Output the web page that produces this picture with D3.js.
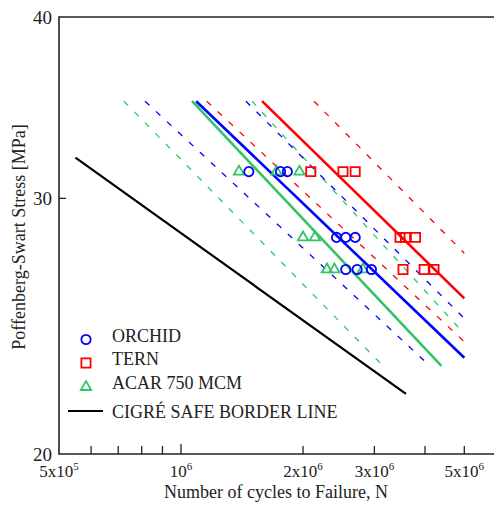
<!DOCTYPE html>
<html>
<head>
<meta charset="utf-8">
<script src="https://cdn.jsdelivr.net/npm/d3@7"></script>
<style>
  body { margin: 0; background: #fff; }
  text { font-family: "Liberation Serif", "Times New Roman", serif; fill: #222; }
</style>
</head>
<body>
<svg id="chart" width="494" height="511"></svg>
<script>
// test points, [N, stress MPa]
var orchidPts = [[1.47e6, 31.3], [1.76e6, 31.3], [1.83e6, 31.3],
                 [2.42e6, 28.2], [2.55e6, 28.2], [2.69e6, 28.2],
                 [2.55e6, 26.8], [2.72e6, 26.8], [2.95e6, 26.8]];
var ternPts = [[2.09e6, 31.3], [2.51e6, 31.3], [2.69e6, 31.3],
               [3.47e6, 28.2], [3.58e6, 28.2], [3.79e6, 28.2],
               [3.53e6, 26.8], [3.98e6, 26.8], [4.21e6, 26.8]];
var acarPts = [[1.39e6, 31.3], [1.72e6, 31.3], [1.96e6, 31.3],
               [2.0e6, 28.2], [2.14e6, 28.2],
               [2.29e6, 26.8], [2.39e6, 26.8], [2.81e6, 26.8]];

// fitted S-N lines and bounds, end points [N, stress]
var orchidFit = [[1.09e6, 35], [5.0e6, 23.3]];
var orchidLow = [[8.15e5, 35], [4.11e6, 23.0]];
var orchidHigh = [[1.446e6, 35], [5.0e6, 24.8]];
var ternFit = [[1.585e6, 35], [5.0e6, 25.6]];
var ternLow = [[1.157e6, 35], [5.0e6, 23.9]];
var ternHigh = [[2.129e6, 35], [5.0e6, 27.5]];
var acarFit = [[1.065e6, 35], [4.39e6, 23.0]];
var acarLow = [[7.23e5, 35], [3.15e6, 23.0]];
var acarHigh = [[1.497e6, 35], [5.0e6, 24.2]];
var cigreLine = [[5.49e5, 32], [3.59e6, 22]];

var xMajor = [1e6, 2e6, 3e6, 4e6, 5e6];
var xMinor = [6e5, 7e5, 8e5, 9e5];
var xLabels = [[5e5, "5x10", "5"], [1e6, "10", "6"], [2e6, "2x10", "6"], [3e6, "3x10", "6"], [5e6, "5x10", "6"]];
var yLabels = [20, 30, 40];

var blue = "#0000ff", red = "#ff0000", green = "#33c466";

var width = 494, height = 511;
var margins = {top: 17, bottom: 57, left: 59, right: 0};

var svg = d3.select("#chart");

var xScale = d3.scaleLog()
  .domain([5e5, 6e6])
  .range([margins.left, margins.left + 405.3 * Math.log10(12)]);
var yScale = d3.scaleLog()
  .domain([20, 40])
  .range([height - margins.bottom, margins.top]);

var line = d3.line()
  .x(function(d){ return xScale(d[0]); })
  .y(function(d){ return yScale(d[1]); });

// dashed bounds first
var dashed = [[acarLow, green], [acarHigh, green], [orchidLow, blue], [orchidHigh, blue], [ternLow, red], [ternHigh, red]];
svg.append("g").selectAll("path")
  .data(dashed)
  .enter()
  .append("path")
  .attr("d", function(d){ return line(d[0]); })
  .attr("fill", "none")
  .attr("stroke", function(d){ return d[1]; })
  .attr("stroke-width", 1.3)
  .attr("stroke-dasharray", "6,9");

var solid = [[acarFit, green, 2.6], [orchidFit, blue, 2.6], [ternFit, red, 2.6], [cigreLine, "#000", 2.2]];
svg.append("g").selectAll("path")
  .data(solid)
  .enter()
  .append("path")
  .attr("d", function(d){ return line(d[0]); })
  .attr("fill", "none")
  .attr("stroke", function(d){ return d[1]; })
  .attr("stroke-width", function(d){ return d[2]; });

// markers
var triSym = d3.symbol().type(d3.symbolTriangle).size(46);
var circSym = d3.symbol().type(d3.symbolCircle).size(68);
var sqSym = d3.symbol().type(d3.symbolSquare).size(84);

function drawPts(pts, sym, col) {
  svg.append("g").selectAll("path")
    .data(pts)
    .enter()
    .append("path")
    .attr("d", sym)
    .attr("transform", function(d){ return "translate(" + xScale(d[0]) + "," + yScale(d[1]) + ")"; })
    .attr("fill", "none")
    .attr("stroke", col)
    .attr("stroke-width", 1.8);
}
drawPts(acarPts, triSym, green);
drawPts(orchidPts, circSym, blue);
drawPts(ternPts, sqSym, red);

// axes frame
var x0 = margins.left, x1 = width;
var yTop = yScale(40), yBot = yScale(20);
svg.append("line").attr("x1", x0).attr("x2", x1).attr("y1", yTop).attr("y2", yTop)
  .attr("stroke", "#222").attr("stroke-width", 1.6);
svg.append("line").attr("x1", x0).attr("x2", x1).attr("y1", yBot).attr("y2", yBot)
  .attr("stroke", "#222").attr("stroke-width", 1.6);
svg.append("line").attr("x1", x0).attr("x2", x0).attr("y1", yTop - 0.8).attr("y2", yBot + 0.8)
  .attr("stroke", "#222").attr("stroke-width", 1.6);

svg.append("g").selectAll("line")
  .data(xMajor.concat(xMinor))
  .enter()
  .append("line")
  .attr("x1", function(d){ return xScale(d); })
  .attr("x2", function(d){ return xScale(d); })
  .attr("y1", yBot)
  .attr("y2", function(d){ return yBot - (d == 1e6 ? 10 : 8); })
  .attr("stroke", "#222")
  .attr("stroke-width", 1.3);

svg.append("line").attr("x1", x0).attr("x2", x0 + 7)
  .attr("y1", yScale(30)).attr("y2", yScale(30))
  .attr("stroke", "#222").attr("stroke-width", 1.3);

// tick labels
svg.append("g").selectAll("text")
  .data(yLabels)
  .enter()
  .append("text")
  .attr("x", x0 - 7)
  .attr("y", function(d){ return yScale(d) + 6.5; })
  .attr("text-anchor", "end")
  .style("font-size", "19px")
  .text(function(d){ return d; });

var xl = svg.append("g").selectAll("text")
  .data(xLabels)
  .enter()
  .append("text")
  .attr("x", function(d){ return xScale(d[0]); })
  .attr("y", yBot + 23)
  .attr("text-anchor", "middle")
  .style("font-size", "17px");
xl.append("tspan").text(function(d){ return d[1]; });
xl.append("tspan").attr("dy", -7).style("font-size", "11px").text(function(d){ return d[2]; });

// axis titles
svg.append("text")
  .text("Number of cycles to Failure, N")
  .attr("x", 276)
  .attr("y", 498)
  .attr("text-anchor", "middle")
  .style("font-size", "18px");
svg.append("text")
  .text("Poffenberg-Swart Stress [MPa]")
  .attr("transform", "translate(25,237) rotate(-90)")
  .attr("text-anchor", "middle")
  .style("font-size", "18px");

// legend
var legend = [["ORCHID", circSym, blue, 339.5, 342],
              ["TERN", sqSym, red, 363, 365],
              ["ACAR 750 MCM", triSym, green, 387, 389],
              ["CIGRÉ SAFE BORDER LINE", null, "#000", 411, 418]];
var lg = svg.append("g").selectAll("g")
  .data(legend)
  .enter()
  .append("g");
lg.filter(function(d){ return d[1]; })
  .append("path")
  .attr("d", function(d){ return d[1](); })
  .attr("transform", function(d){ return "translate(86," + d[3] + ")"; })
  .attr("fill", "none")
  .attr("stroke", function(d){ return d[2]; })
  .attr("stroke-width", 1.8);
lg.filter(function(d){ return !d[1]; })
  .append("line")
  .attr("x1", 68).attr("x2", 103)
  .attr("y1", function(d){ return d[3]; })
  .attr("y2", function(d){ return d[3]; })
  .attr("stroke", "#000")
  .attr("stroke-width", 2.2);
lg.append("text")
  .attr("x", 112)
  .attr("y", function(d){ return d[4]; })
  .style("font-size", "18px")
  .text(function(d){ return d[0]; });
</script>
</body>
</html>
